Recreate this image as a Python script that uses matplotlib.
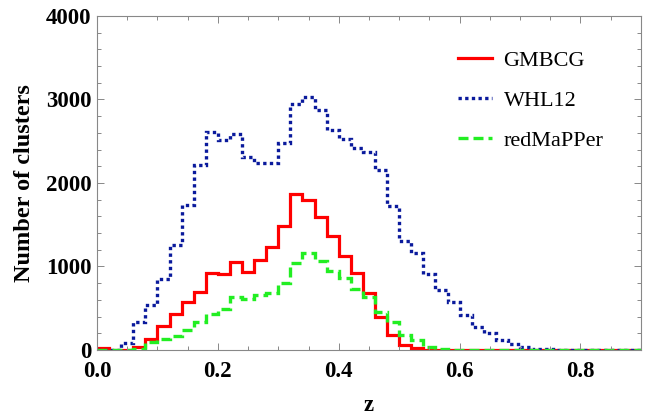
import numpy as np
from matplotlib import pyplot as plt

# redshift bins, width 0.02 from 0 to 0.9
z_edges = np.round(np.arange(0, 0.9001, 0.02), 2)

gmbcg = [20, 0, 0, 30, 130, 290, 430, 570, 690, 920,
         910, 1050, 930, 1080, 1230, 1490, 1865, 1800, 1590, 1370,
         1120, 920, 680, 390, 180, 60, 20, 5, 0, 0,
         0, 0, 0, 0, 0, 0, 0, 0, 0, 0,
         0, 0, 0, 0, 0]
whl12 = [0, 0, 80, 340, 540, 850, 1260, 1740, 2210, 2610,
         2520, 2590, 2310, 2240, 2240, 2480, 2950, 3030, 2870, 2630,
         2530, 2420, 2370, 2150, 1730, 1300, 1160, 915, 715, 570,
         420, 280, 200, 115, 72, 30, 15, 10, 5, 3,
         0, 0, 0, 0, 0]
redmapper = [0, 0, 0, 10, 100, 130, 170, 240, 330, 430,
             490, 630, 610, 660, 680, 800, 1040, 1160, 1060, 940,
             860, 730, 640, 450, 330, 180, 120, 40, 15, 5,
             0, 0, 0, 0, 0, 0, 0, 0, 0, 0,
             0, 0, 0, 0, 0]

plt.rcParams['font.family'] = ['Liberation Serif', 'DejaVu Serif']

fig = plt.figure(figsize=(6.49, 4.2), dpi=100)
ax = fig.add_axes([0.1495, 0.1667, 0.838, 0.7953])

ax.stairs(gmbcg, z_edges, baseline=None, color='#ff0000', lw=2.3,
          label='GMBCG')
ax.stairs(whl12, z_edges, baseline=None, color='#0a1a9c', lw=2.4,
          linestyle=(0, (1, 1)), label='WHL12')
ax.stairs(redmapper, z_edges, baseline=None, color='#22ee22', lw=2.4,
          linestyle=(0, (3, 1.5)), label='redMaPPer')

ax.set_xlim(0, 0.9)
ax.set_ylim(0, 4000)
ax.set_xticks([0.0, 0.2, 0.4, 0.6, 0.8])
ax.set_xticks(np.arange(0, 0.91, 0.05), minor=True)
ax.set_yticks([0, 1000, 2000, 3000, 4000])
ax.set_yticks(np.arange(0, 4001, 200), minor=True)
ax.set_xticklabels(['0.0', '0.2', '0.4', '0.6', '0.8'])

for sp in ax.spines.values():
    sp.set_color('#888888')
    sp.set_linewidth(0.8)
ax.tick_params(which='both', direction='in', top=True, right=True,
               color='#888888', width=0.7)
ax.tick_params(which='major', length=5, labelsize=16.5)
ax.tick_params(which='minor', length=3)
ax.tick_params(axis='x', which='major', pad=8)
ax.tick_params(axis='y', which='major', pad=4)
for lab in ax.get_xticklabels() + ax.get_yticklabels():
    lab.set_fontweight('bold')

ax.set_xlabel('z', fontsize=16.5, fontweight='bold', labelpad=9)
ax.set_ylabel('Number of clusters', fontsize=17.5, fontweight='bold',
              labelpad=8)

ax.legend(loc='upper left', bbox_to_anchor=(0.7057, 0.881),
          bbox_transform=fig.transFigure, frameon=False, fontsize=16,
          handlelength=1.55, handletextpad=0.5, labelspacing=0.88,
          borderpad=0, borderaxespad=0)

plt.savefig('out.png', dpi=100)
